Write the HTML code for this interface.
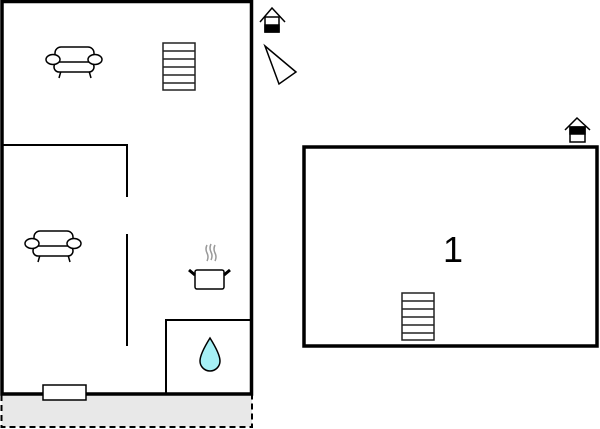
<!DOCTYPE html>
<html><head><style>body{margin:0;background:#fff}svg{display:block}</style></head>
<body>
<svg width="600" height="429" viewBox="0 0 600 429" xmlns="http://www.w3.org/2000/svg">
<rect x="1.5" y="394" width="250.5" height="33" fill="#e8e8e8" stroke="#000" stroke-width="2" stroke-dasharray="6,4"/>
<rect x="2" y="1.5" width="249.5" height="392.5" fill="#fff" stroke="#000" stroke-width="3.5"/>
<g stroke="#000" stroke-width="2" fill="none">
<polyline points="3,145 127,145 127,197"/>
<line x1="127" y1="234" x2="127" y2="346"/>
<polyline points="166,394 166,320 251,320"/>
</g>
<rect x="43" y="385" width="43" height="15" fill="#fff" stroke="#000" stroke-width="1.5"/>
<g stroke="#222" stroke-width="1.5" fill="#fff">
<rect x="163" y="43" width="32" height="47"/>
<path d="M163 51h32M163 59h32M163 67h32M163 75h32M163 83h32" fill="none"/>
<rect x="402" y="293" width="32" height="47"/>
<path d="M402 301h32M402 309h32M402 317h32M402 325h32M402 333h32" fill="none"/>
</g>
<g stroke="#000" stroke-width="1.5" fill="#fff">
<g>
<path d="M61 71l-2 7M89 71l2 7"/>
<rect x="55" y="47" width="39" height="16" rx="6"/>
<rect x="54" y="62" width="40" height="10" rx="5"/>
<ellipse cx="53" cy="59.5" rx="7" ry="5"/>
<ellipse cx="95" cy="59.5" rx="7" ry="5"/>
</g>
<g transform="translate(-21,184)">
<path d="M61 71l-2 7M89 71l2 7"/>
<rect x="55" y="47" width="39" height="16" rx="6"/>
<rect x="54" y="62" width="40" height="10" rx="5"/>
<ellipse cx="53" cy="59.5" rx="7" ry="5"/>
<ellipse cx="95" cy="59.5" rx="7" ry="5"/>
</g>
</g>
<rect x="195" y="270" width="29" height="19" rx="2" fill="#fff" stroke="#000" stroke-width="1.5"/>
<path d="M195 275l-6-5M224 275l6-5" stroke="#000" stroke-width="3"/>
<path d="M207 245q-2 4 0 8t0 8M211 244q-2 4 0 8t0 8M215 245q-2 4 0 8t0 8" stroke="#999" stroke-width="1.5" fill="none"/>
<path d="M210 338 Q220 354 220 361 A10 10 0 0 1 200 361 Q200 354 210 338Z" fill="#a6f0f5" stroke="#000" stroke-width="1.5"/>
<g stroke="#000" stroke-width="1.5" fill="#fff">
<path d="M260 22l12-14l13 14"/>
<rect x="265" y="17" width="14" height="15"/>
<rect x="265" y="25" width="14" height="7" fill="#000"/>
<polygon points="265,46 296,72 279,84"/>
<path d="M565 130l12-12l13 12"/>
<rect x="570" y="127" width="15" height="15"/>
<rect x="570" y="127" width="15" height="7" fill="#000"/>
</g>
<rect x="304" y="147" width="293" height="199" fill="none" stroke="#000" stroke-width="3.5"/>
<text x="453" y="262" font-family="Liberation Sans, sans-serif" font-size="36" text-anchor="middle">1</text>
</svg>
</body></html>
